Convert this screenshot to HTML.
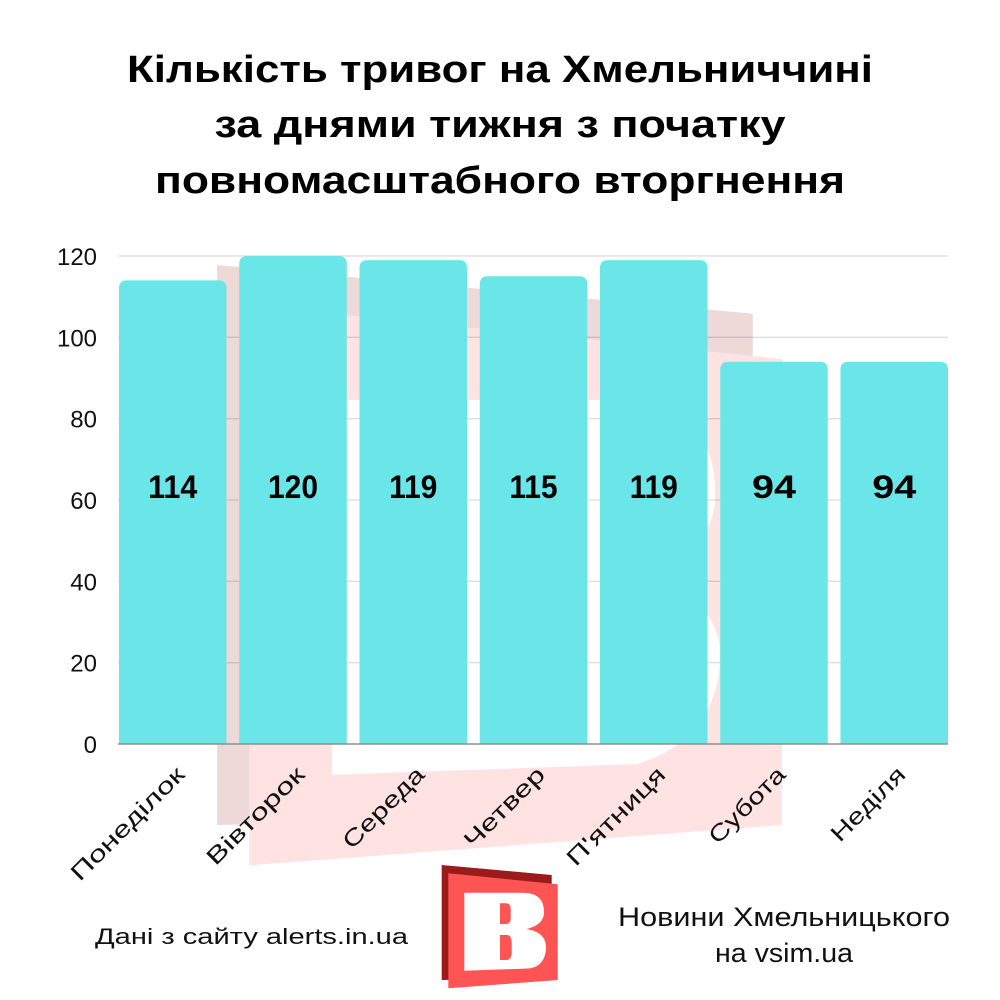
<!DOCTYPE html>
<html>
<head>
<meta charset="utf-8">
<style>
  html,body{margin:0;padding:0;background:#fff;}
  svg{display:block;}
  text{font-family:"Liberation Sans","Noto Sans CJK SC",sans-serif;}
</style>
</head>
<body>
<svg width="1000" height="1000" viewBox="0 0 1000 1000" xmlns="http://www.w3.org/2000/svg">
  <rect x="0" y="0" width="1000" height="1000" fill="#ffffff"/>

  <!-- Title -->
  <text x="500" y="82" text-anchor="middle" font-size="38" font-weight="bold" fill="#000" textLength="746" lengthAdjust="spacingAndGlyphs">Кількість тривог на Хмельниччині</text>
  <text x="500" y="137" text-anchor="middle" font-size="38" font-weight="bold" fill="#000" textLength="571" lengthAdjust="spacingAndGlyphs">за днями тижня з початку</text>
  <text x="500" y="193" text-anchor="middle" font-size="38" font-weight="bold" fill="#000" textLength="690" lengthAdjust="spacingAndGlyphs">повномасштабного вторгнення</text>

  <!-- Watermark (faded logo) -->
  <g opacity="0.16" transform="translate(-1934,-3947.6) scale(4.87)">
    <polygon points="441.7,865 551.7,875 551.7,978 441.7,980" fill="#9b1b1b"/>
    <polygon points="448.3,873.3 557.7,884.3 557.7,980 448.3,988.3" fill="#ff5454"/>
    <path d="M465.3,892.7 L522,892.7 C538,892.7 544,900 544,912 C544,922 536,927 526,929 C539,931 545,937 545,945 C545,954 541,962 532,966 L528,967.5 L465.3,969.7 Z" fill="#ffffff"/>
  </g>

  <!-- Gridlines -->
  <g stroke="rgba(0,0,0,0.13)" stroke-width="1.3">
    <line x1="118" y1="256" x2="948" y2="256"/>
    <line x1="118" y1="337.33" x2="948" y2="337.33"/>
    <line x1="118" y1="418.67" x2="948" y2="418.67"/>
    <line x1="118" y1="500" x2="948" y2="500"/>
    <line x1="118" y1="581.33" x2="948" y2="581.33"/>
    <line x1="118" y1="662.67" x2="948" y2="662.67"/>
  </g>

  <!-- Bars -->
  <g fill="#6ae5e8">
    <path d="M119,744 V288.4 Q119,280.4 127,280.4 H218.5 Q226.5,280.4 226.5,288.4 V744 Z"/>
    <path d="M239.25,744 V264 Q239.25,256 247.25,256 H338.75 Q346.75,256 346.75,264 V744 Z"/>
    <path d="M359.5,744 V268.1 Q359.5,260.1 367.5,260.1 H459 Q467,260.1 467,268.1 V744 Z"/>
    <path d="M479.75,744 V284.3 Q479.75,276.3 487.75,276.3 H579.25 Q587.25,276.3 587.25,284.3 V744 Z"/>
    <path d="M600,744 V268.1 Q600,260.1 608,260.1 H699.5 Q707.5,260.1 707.5,268.1 V744 Z"/>
    <path d="M720.25,744 V369.7 Q720.25,361.7 728.25,361.7 H819.75 Q827.75,361.7 827.75,369.7 V744 Z"/>
    <path d="M840.5,744 V369.7 Q840.5,361.7 848.5,361.7 H940 Q948,361.7 948,369.7 V744 Z"/>
  </g>

  <!-- Axis line -->
  <line x1="118" y1="744" x2="948" y2="744" stroke="#8f8f8f" stroke-width="1.5"/>

  <!-- Y tick labels -->
  <g font-size="24" fill="#111" text-anchor="end">
    <text x="97" y="265" textLength="40" lengthAdjust="spacingAndGlyphs">120</text>
    <text x="97" y="346.3" textLength="40" lengthAdjust="spacingAndGlyphs">100</text>
    <text x="97" y="427.7">80</text>
    <text x="97" y="509">60</text>
    <text x="97" y="590.3">40</text>
    <text x="97" y="671.7">20</text>
    <text x="97" y="753">0</text>
  </g>

  <!-- Value labels -->
  <g font-size="32" font-weight="bold" fill="#000" text-anchor="middle">
    <text x="172.75" y="498" textLength="49" lengthAdjust="spacingAndGlyphs">114</text>
    <text x="293" y="498" textLength="50" lengthAdjust="spacingAndGlyphs">120</text>
    <text x="413.25" y="498" textLength="48" lengthAdjust="spacingAndGlyphs">119</text>
    <text x="533.5" y="498" textLength="48" lengthAdjust="spacingAndGlyphs">115</text>
    <text x="653.75" y="498" textLength="48" lengthAdjust="spacingAndGlyphs">119</text>
    <text x="774" y="498" textLength="44" lengthAdjust="spacingAndGlyphs">94</text>
    <text x="894.25" y="498" textLength="44" lengthAdjust="spacingAndGlyphs">94</text>
  </g>

  <!-- X labels -->
  <g font-size="23" fill="#111" text-anchor="end">
    <text transform="translate(186,776) rotate(-45)" textLength="150" lengthAdjust="spacingAndGlyphs">Понеділок</text>
    <text transform="translate(306,776) rotate(-45)" textLength="128" lengthAdjust="spacingAndGlyphs">Вівторок</text>
    <text transform="translate(426,776) rotate(-45)" textLength="105" lengthAdjust="spacingAndGlyphs">Середа</text>
    <text transform="translate(546.5,776) rotate(-45)" textLength="104" lengthAdjust="spacingAndGlyphs">Четвер</text>
    <text transform="translate(667,776) rotate(-45)" textLength="129" lengthAdjust="spacingAndGlyphs">П'ятниця</text>
    <text transform="translate(787,776) rotate(-45)" textLength="98" lengthAdjust="spacingAndGlyphs">Субота</text>
    <text transform="translate(907,776) rotate(-45)" textLength="95" lengthAdjust="spacingAndGlyphs">Неділя</text>
  </g>

  <!-- Footer logo -->
  <polygon points="441.7,865 551.7,875 551.7,978 441.7,980" fill="#9b1b1b"/>
  <polygon points="448.3,873.3 557.7,884.3 557.7,980 448.3,988.3" fill="#ff5454"/>
  <path d="M464.3,892.7 L522,892.7 C538,892.7 544,900 544,912 C544,922 536,927 526,929 C540,931 546,938 546,947 C546,961 538,968 528,968.5 L464.3,970.7 Z" fill="#ffffff"/>
  <path d="M500,903.3 L506,903.3 C509.5,903.3 510.7,906 510.7,910 L510.7,918 C510.7,922 509,924 506,924 L500,924 Z" fill="#ff5454"/>
  <path d="M500,935 L507,935 C510.5,935 511.7,939 511.7,944 L511.7,952 C511.7,957 510,960 506,960 L500,960 Z" fill="#ff5454"/>

  <!-- Footer texts -->
  <text x="95" y="944" font-size="22" fill="#111" textLength="313" lengthAdjust="spacingAndGlyphs">Дані з сайту alerts.in.ua</text>
  <text x="784" y="926" font-size="27" fill="#111" text-anchor="middle" textLength="332" lengthAdjust="spacingAndGlyphs">Новини Хмельницького</text>
  <text x="784" y="962" font-size="27" fill="#111" text-anchor="middle" textLength="138" lengthAdjust="spacingAndGlyphs">на vsim.ua</text>
</svg>
</body>
</html>
